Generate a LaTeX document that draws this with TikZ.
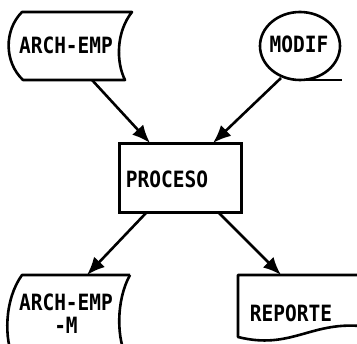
\documentclass[tikz,border=0pt]{standalone}
\usepackage{fontspec}
\usepackage{graphicx}
\newfontfamily\monof{DejaVu Sans Mono}
\newcommand\talltxt[1]{\scalebox{1}[1.15]{#1}}
\usetikzlibrary{arrows.meta}
\begin{document}
\begin{tikzpicture}[x=1pt,y=-1pt,
  shp/.style={line width=2.6pt, line join=round},
  lbl/.style={font=\monof\bfseries\fontsize{19.5}{22}\selectfont, inner sep=0pt, align=center},
  conn/.style={line width=2.6pt, -{Latex[length=18pt,width=15pt]}}]
\useasboundingbox (0,0) rectangle (357,344);
\clip (0,0) rectangle (357,344);
\fill[white] (0,0) rectangle (357,344);
% ARCH-EMP stored data
\draw[shp] (22,12) -- (132,12) .. controls (116,32) and (116,62) .. (125,80)
  -- (23,80) .. controls (4,62) and (4,30) .. cycle;
\node[lbl] (ae) at (66,45) {\talltxt{ARCH-EMP}};
% MODIF tape
\draw[shp] (300,46) ellipse [x radius=40, y radius=34];
\draw[shp] (300,80) -- (342,80);
\node[lbl] (mo) at (299,44) {\talltxt{MODIF}};
% PROCESO
\node[draw, line width=2.6pt, minimum width=122pt, minimum height=69pt, inner sep=0pt] (p) at (180.5,178) {};
\node[lbl] (pt) at (167,179) {\talltxt{PROCESO}};
% ARCH-EMP-M
\draw[shp] (130,275) -- (22,275) .. controls (4,300) and (4,340) .. (14,360);
\draw[shp] (130,275) .. controls (116,300) and (116,340) .. (128,360);
\node[lbl] (aem) at (66,302) {\talltxt{ARCH-EMP}};
\node[lbl] (aem2) at (66,325) {\talltxt{-M}};
% REPORTE document
\draw[shp] (370,275) -- (238,275) -- (238,337) .. controls (290,350) and (310,322) .. (360,326);
\node[lbl] (rp) at (291,313) {\talltxt{REPORTE}};
% connectors
\coordinate (a1) at (92,80);
\coordinate (a2) at (150,143);
\coordinate (b1) at (281,78);
\coordinate (b2) at (213,143);
\coordinate (c1) at (146,213);
\coordinate (c2) at (87,275);
\coordinate (d1) at (219,213);
\coordinate (d2) at (281,275);
\draw[conn] (a1) -- (a2);
\draw[conn] (b1) -- (b2);
\draw[conn] (c1) -- (c2);
\draw[conn] (d1) -- (d2);
\end{tikzpicture}
\end{document}
